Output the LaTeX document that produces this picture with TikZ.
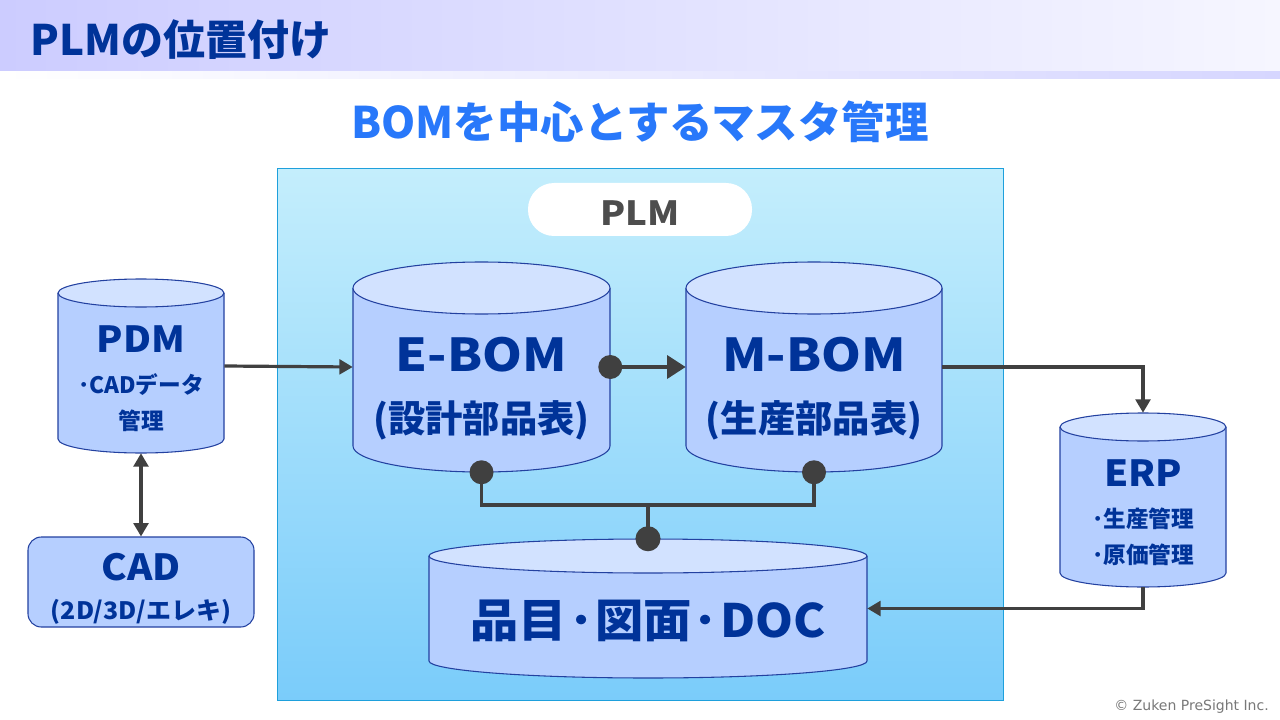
\documentclass[tikz,border=0pt]{standalone}
\usepackage{fontspec}
\setmainfont{Noto Sans CJK JP}
\newfontfamily\copyfont{DejaVu Sans}
\usetikzlibrary{arrows.meta,calc}
\definecolor{hdrL}{RGB}{204,204,255}
\definecolor{hdrR}{RGB}{246,246,255}
\definecolor{navy}{RGB}{0,51,153}
\definecolor{subblue}{RGB}{40,120,250}
\definecolor{plmtop}{RGB}{196,238,252}
\definecolor{plmbot}{RGB}{122,204,250}
\definecolor{plmedge}{RGB}{30,160,220}
\definecolor{cylbody}{RGB}{182,207,255}
\definecolor{cyltop}{RGB}{210,226,255}
\definecolor{cyledge}{RGB}{35,65,160}
\definecolor{conn}{RGB}{64,64,64}
\definecolor{plmtxt}{RGB}{77,77,77}
\newcommand\mdot{\kern1.5pt･\kern1.5pt}
\tikzset{
  bigtxt/.style={font=\bfseries\fontsize{27pt}{30pt}\selectfont, text=navy, inner sep=0pt, xscale=1.07},
  hugetxt/.style={font=\bfseries\fontsize{34pt}{38pt}\selectfont, text=navy, inner sep=0pt, xscale=1.12},
  doctxt/.style={font=\bfseries\fontsize{34.5pt}{38pt}\selectfont, text=navy, inner sep=0pt, xscale=1.05},
  midtxt/.style={font=\bfseries\fontsize{28pt}{32pt}\selectfont, text=navy, inner sep=0pt},
  smalltxt/.style={font=\bfseries\fontsize{17pt}{20pt}\selectfont, text=navy, inner sep=0pt},
  cylnode/.style={inner sep=0pt, draw=none},
  link/.style={draw=conn, line width=2.4pt, -{Triangle[length=10pt,width=11pt]}},
  plainlink/.style={draw=conn, line width=2.4pt},
  dotm/.style={fill=conn, draw=none},
}
% \cylinder{left}{right}{top centre}{bottom centre}{ry}
\newcommand\cylinder[5]{%
  \fill[cylbody] (#1,#3) -- (#1,#4)
    arc[start angle=180, end angle=360, x radius={(#2-#1)/2*0.75pt}, y radius={#5*0.75pt}]
    -- (#2,#3)
    arc[start angle=0, end angle=180, x radius={(#2-#1)/2*0.75pt}, y radius={#5*0.75pt}] -- cycle;
  \draw[cyledge, line width=0.8pt] (#1,#3) -- (#1,#4)
    arc[start angle=180, end angle=360, x radius={(#2-#1)/2*0.75pt}, y radius={#5*0.75pt}]
    -- (#2,#3);
  \filldraw[fill=cyltop, draw=cyledge, line width=0.8pt] ({(#1+#2)/2},#3)
    ellipse[x radius={(#2-#1)/2*0.75pt}, y radius={#5*0.75pt}];
}
\begin{document}
\begin{tikzpicture}[x=0.75pt,y=-0.75pt]
\useasboundingbox (0,0) rectangle (1280,720);
\fill[white] (0,0) rectangle (1280,720);
% header
\shade[left color=hdrL, right color=hdrR] (0,0) rectangle (1280,72);
\shade[left color=white, right color={rgb,255:red,214;green,214;blue,255}] (0,72) rectangle (1280,79);
\node[anchor=base west, inner sep=0pt, text=navy, font=\bfseries\fontsize{31.5pt}{34pt}\selectfont] (title) at (30,56) {PLMの位置付け};
% subtitle
\node[inner sep=0pt, text=subblue, font=\bfseries\fontsize{32.6pt}{36pt}\selectfont] (subtitle) at (640,122) {BOMを中心とするマスタ管理};
% PLM frame
\shade[top color=plmtop, bottom color=plmbot] (277,169) rectangle (1003,700);
\draw[plmedge, line width=0.75pt] (277,169) rectangle (1003,700);
\node[fill=white, rounded corners=19.5pt, minimum width=168pt, minimum height=39.75pt, inner sep=0pt] (plmlabel) at (640,209.5) {};
\node[inner sep=0pt, text=plmtxt, xscale=1.1, font=\bfseries\fontsize{25pt}{28pt}\selectfont] (plmtext) at (640,213) {PLM};
% cylinders
\cylinder{58}{224}{293}{439}{14}
\node[cylnode, minimum width=124.5pt, minimum height=130.5pt] (pdm) at (141,366) {};
\cylinder{1060}{1226}{427}{573}{14}
\node[cylnode, minimum width=124.5pt, minimum height=130.5pt] (erp) at (1143,500) {};
\cylinder{353}{610}{288}{446}{26}
\node[cylnode, minimum width=192.75pt, minimum height=157.5pt] (ebom) at (481.5,367) {};
\cylinder{686}{942}{288}{446}{26}
\node[cylnode, minimum width=192pt, minimum height=157.5pt] (mbom) at (814,367) {};
\cylinder{429}{867}{556}{661}{17}
\node[cylnode, minimum width=328.5pt, minimum height=104.25pt] (doc) at (648,608.5) {};
% CAD box
\node[fill=cylbody, draw=cyledge, line width=0.8pt, rounded corners=10pt, minimum width=169.5pt, minimum height=67.5pt, inner sep=0pt] (cad) at (141,582) {};
% texts
\node[bigtxt] (pdmt) at (141,339) {PDM};
\node[smalltxt] (pdms1) at (141,385) {･CADデータ};
\node[smalltxt] (pdms2) at (141,421) {管理};
\node[bigtxt] (erpt) at (1143,473) {ERP};
\node[smalltxt] (erps1) at (1143,519) {･生産管理};
\node[smalltxt] (erps2) at (1143,555) {･原価管理};
\node[hugetxt] (ebomt) at (481.5,355) {E-BOM};
\node[midtxt] (eboms) at (481.5,420) {(設計部品表)};
\node[hugetxt] (mbomt) at (814,355) {M-BOM};
\node[midtxt] (mboms) at (814,420) {(生産部品表)};
\node[bigtxt] (cadt) at (141,567) {CAD};
\node[smalltxt, font=\bfseries\fontsize{18pt}{20pt}\selectfont, xscale=1.04] (cads) at (141,612) {(2D/3D/エレキ)};
\node[doctxt] (doct) at (648,621) {品目\mdot 図面\mdot DOC};
% connectors
\draw[link] (pdm.east) -- (ebom.west);
\draw[plainlink, {Triangle[length=10pt,width=11pt]}-{Triangle[length=10pt,width=11pt]}] (pdm.south) -- (cad.north);
\draw[draw=conn, line width=3.4pt, -{Triangle[length=14pt,width=17pt]}] (ebom.east) -- (mbom.west);
\fill[dotm] (ebom.east) circle[radius=9pt];
\draw[link] (mbom.east) -| (erp.north);
\draw[link] (erp.south) |- (doc.east);
\coordinate (junc) at (648,505);
\draw[plainlink] (ebom.south) |- (junc) -| (mbom.south);
\draw[plainlink] (junc) -- (doc.north);
\fill[dotm] (ebom.south) circle[radius=9pt];
\fill[dotm] (mbom.south) circle[radius=9pt];
\fill[dotm] (doc.north) circle[radius=9.4pt];
% copyright
\node[anchor=east, inner sep=0pt, text={rgb,255:red,120;green,120;blue,120}, font=\copyfont\fontsize{10.5pt}{12pt}\selectfont] (copy) at (1269,707) {© Zuken PreSight Inc.};
\end{tikzpicture}
\end{document}
